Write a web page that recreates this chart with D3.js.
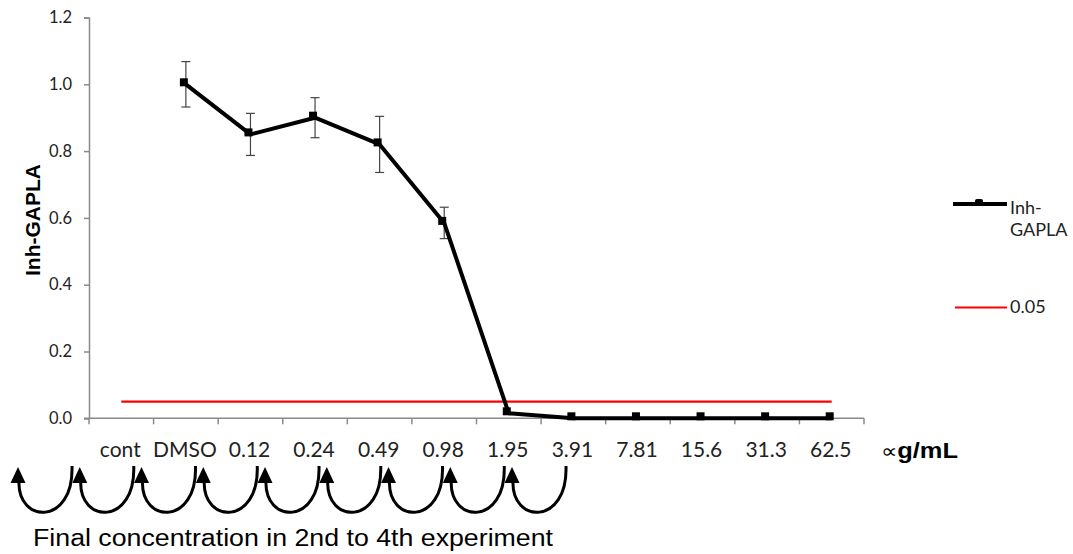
<!DOCTYPE html>
<html>
<head>
<meta charset="utf-8">
<script src="https://cdn.jsdelivr.net/npm/d3@7"></script>
<style>
  body { margin: 0; background: #fff; }
  svg { display: block; }
</style>
</head>
<body>
<svg id="chart" width="1073" height="554"></svg>
<script>
/// chart values
var categories = ["cont", "DMSO", "0.12", "0.24", "0.49", "0.98", "1.95", "3.91", "7.81", "15.6", "31.3", "62.5"];
var seriesCats = ["DMSO", "0.12", "0.24", "0.49", "0.98", "1.95", "3.91", "7.81", "15.6", "31.3", "62.5"];
var inhValues  = [1.0, 0.85, 0.9, 0.82, 0.585, 0.015, 0.0, 0.0, 0.0, 0.0, 0.0];
var inhErrors  = [0.068, 0.063, 0.06, 0.084, 0.047, 0, 0, 0, 0, 0, 0];
var thresholdValue = 0.05;
var yTicks = [0, 0.2, 0.4, 0.6, 0.8, 1.0, 1.2];
var dilutionSteps = ["s1", "s2", "s3", "s4", "s5", "s6", "s7", "s8", "s9"];

var svg = d3.select("#chart");

/// set dimensions
var margin = {top: 17.5, left: 89, right: 209, bottom: 135.7};
var W = 1073, H = 554;

var x = d3.scaleBand()
          .domain(categories)
          .range([margin.left, W - margin.right])
          .paddingInner(0).paddingOuter(0);

var y = d3.scaleLinear()
          .domain([0, 1.2])
          .range([H - margin.bottom, margin.top]);

var axisColor = "#8a8a8a",
    labelColor = "#222",
    labelFont = "Lato, 'Open Sans', sans-serif";

var data = seriesCats.map((c, i) => ({cat: c, v: inhValues[i], e: inhErrors[i]}));

// y axis
var yAxis = svg.append("g")
               .attr("transform", "translate(" + margin.left + ",0)")
               .call(d3.axisLeft(y).tickValues(yTicks).tickFormat(d3.format(".1f")).tickSize(5).tickPadding(12));
yAxis.select(".domain").attr("stroke", axisColor).attr("stroke-width", 1.5);
yAxis.selectAll(".tick line").attr("stroke", axisColor).attr("stroke-width", 1.5);
yAxis.selectAll(".tick text")
     .attr("fill", labelColor)
     .style("font-family", labelFont)
     .style("font-size", "16.5px");

// x axis line + ticks between categories
var xAxisY = y(0);
svg.append("line")
   .attr("x1", margin.left - 5).attr("x2", W - margin.right)
   .attr("y1", xAxisY).attr("y2", xAxisY)
   .attr("stroke", axisColor).attr("stroke-width", 1.5);

svg.selectAll(".xtick")
   .data(categories.concat(["end"]))
   .enter()
   .append("line")
   .attr("class", "xtick")
   .attr("x1", d => d === "end" ? x.range()[1] : x(d))
   .attr("x2", d => d === "end" ? x.range()[1] : x(d))
   .attr("y1", xAxisY).attr("y2", xAxisY + 6)
   .attr("stroke", axisColor).attr("stroke-width", 1.5);

svg.selectAll(".xlabel")
   .data(categories)
   .enter()
   .append("text")
   .attr("class", "xlabel")
   .attr("x", d => x(d) + x.bandwidth() / 2 - 1)
   .attr("y", xAxisY + 39)
   .attr("text-anchor", "middle")
   .attr("fill", labelColor)
   .style("font-family", labelFont)
   .style("font-size", "21px")
   .text(d => d);

// threshold line
svg.append("line")
   .attr("x1", x("cont") + x.bandwidth() / 2)
   .attr("x2", x("62.5") + x.bandwidth() / 2)
   .attr("y1", y(thresholdValue)).attr("y2", y(thresholdValue))
   .attr("stroke", "#ff0000").attr("stroke-width", 2.2);

// error bars
var eb = svg.append("g").attr("class", "errbars");
var ebData = data.filter(d => d.e > 0);
eb.selectAll(".ebv").data(ebData).enter().append("line")
  .attr("x1", d => x(d.cat) + x.bandwidth() / 2).attr("x2", d => x(d.cat) + x.bandwidth() / 2)
  .attr("y1", d => y(d.v + d.e)).attr("y2", d => y(d.v - d.e))
  .attr("stroke", "#444").attr("stroke-width", 1.2);
eb.selectAll(".ebt").data(ebData).enter().append("line")
  .attr("x1", d => x(d.cat) + x.bandwidth() / 2 - 4.5).attr("x2", d => x(d.cat) + x.bandwidth() / 2 + 4.5)
  .attr("y1", d => y(d.v + d.e)).attr("y2", d => y(d.v + d.e))
  .attr("stroke", "#444").attr("stroke-width", 1.2);
eb.selectAll(".ebb").data(ebData).enter().append("line")
  .attr("x1", d => x(d.cat) + x.bandwidth() / 2 - 4.5).attr("x2", d => x(d.cat) + x.bandwidth() / 2 + 4.5)
  .attr("y1", d => y(d.v - d.e)).attr("y2", d => y(d.v - d.e))
  .attr("stroke", "#444").attr("stroke-width", 1.2);

// data line
var line = d3.line()
             .x(d => x(d.cat) + x.bandwidth() / 2)
             .y(d => y(d.v));
svg.append("path")
   .datum(data)
   .attr("d", line)
   .attr("fill", "none")
   .attr("stroke", "#000")
   .attr("stroke-width", 4)
   .attr("stroke-linejoin", "round");

// markers (drawn slightly up-left as in the original)
var mk = 8;
svg.selectAll(".marker")
   .data(data)
   .enter()
   .append("rect")
   .attr("class", "marker")
   .attr("x", d => x(d.cat) + x.bandwidth() / 2 - mk / 2 - 2)
   .attr("y", d => y(d.v) - mk / 2 - 2)
   .attr("width", mk).attr("height", mk)
   .attr("fill", "#000");

// y axis title
svg.append("text")
   .attr("transform", "translate(40,220) rotate(-90)")
   .attr("text-anchor", "middle")
   .style("font-family", "'Liberation Sans', Arial, sans-serif")
   .style("font-weight", "bold")
   .style("font-size", "21px")
   .attr("fill", "#000")
   .text("Inh-GAPLA");

// unit label
var unit = svg.append("text")
   .attr("x", 881).attr("y", 458)
   .style("font-family", "'Liberation Sans', Arial, sans-serif")
   .style("font-weight", "bold")
   .style("font-size", "22px")
   .attr("fill", "#000")
   .attr("textLength", 77)
   .attr("lengthAdjust", "spacingAndGlyphs");
unit.append("tspan").style("font-size", "20px").style("font-weight", "normal").text("\u221d");
unit.append("tspan").text("g/mL");

// legend
var lg = svg.append("g").attr("class", "legend");
lg.append("line")
  .attr("x1", 953).attr("x2", 1007).attr("y1", 204).attr("y2", 204)
  .attr("stroke", "#000").attr("stroke-width", 4);
lg.append("rect")
  .attr("x", 975).attr("y", 199).attr("width", 8).attr("height", 6).attr("rx", 2)
  .attr("fill", "#000");
lg.append("text")
  .attr("x", 1010).attr("y", 214)
  .attr("fill", labelColor)
  .style("font-family", labelFont).style("font-size", "18px")
  .text("Inh-");
lg.append("text")
  .attr("x", 1010).attr("y", 236)
  .attr("fill", labelColor)
  .style("font-family", labelFont).style("font-size", "18px")
  .text("GAPLA");
lg.append("line")
  .attr("x1", 955).attr("x2", 1007).attr("y1", 307.5).attr("y2", 307.5)
  .attr("stroke", "#ff0000").attr("stroke-width", 2.2);
lg.append("text")
  .attr("x", 1010).attr("y", 313)
  .attr("fill", labelColor)
  .style("font-family", labelFont).style("font-size", "18px")
  .text("0.05");

// dilution arrows
var ax = d3.scalePoint().domain(dilutionSteps).range([18, 512]);
var arrows = svg.append("g").attr("class", "arrows");
arrows.selectAll(".arc")
      .data(dilutionSteps)
      .enter()
      .append("path")
      .attr("d", d => {
        let x0 = ax(d);
        return "M" + (x0 + 54) + ",466 C" + (x0 + 56) + ",526 " + (x0 - 1) + ",524 " + (x0 + 1) + ",481";
      })
      .attr("fill", "none")
      .attr("stroke", "#000")
      .attr("stroke-width", 3);
arrows.selectAll(".head")
      .data(dilutionSteps)
      .enter()
      .append("path")
      .attr("d", d => {
        let x0 = ax(d);
        return "M" + x0 + ",467 L" + (x0 - 7.5) + ",483 L" + (x0 + 7.5) + ",483 Z";
      })
      .attr("fill", "#000");

// bottom caption
svg.append("text")
   .attr("x", 33).attr("y", 546)
   .style("font-family", "'Liberation Sans', Arial, sans-serif")
   .style("font-size", "23px")
   .attr("fill", "#000")
   .attr("textLength", 520)
   .attr("lengthAdjust", "spacingAndGlyphs")
   .text("Final concentration in 2nd to 4th experiment");
</script>
</body>
</html>
